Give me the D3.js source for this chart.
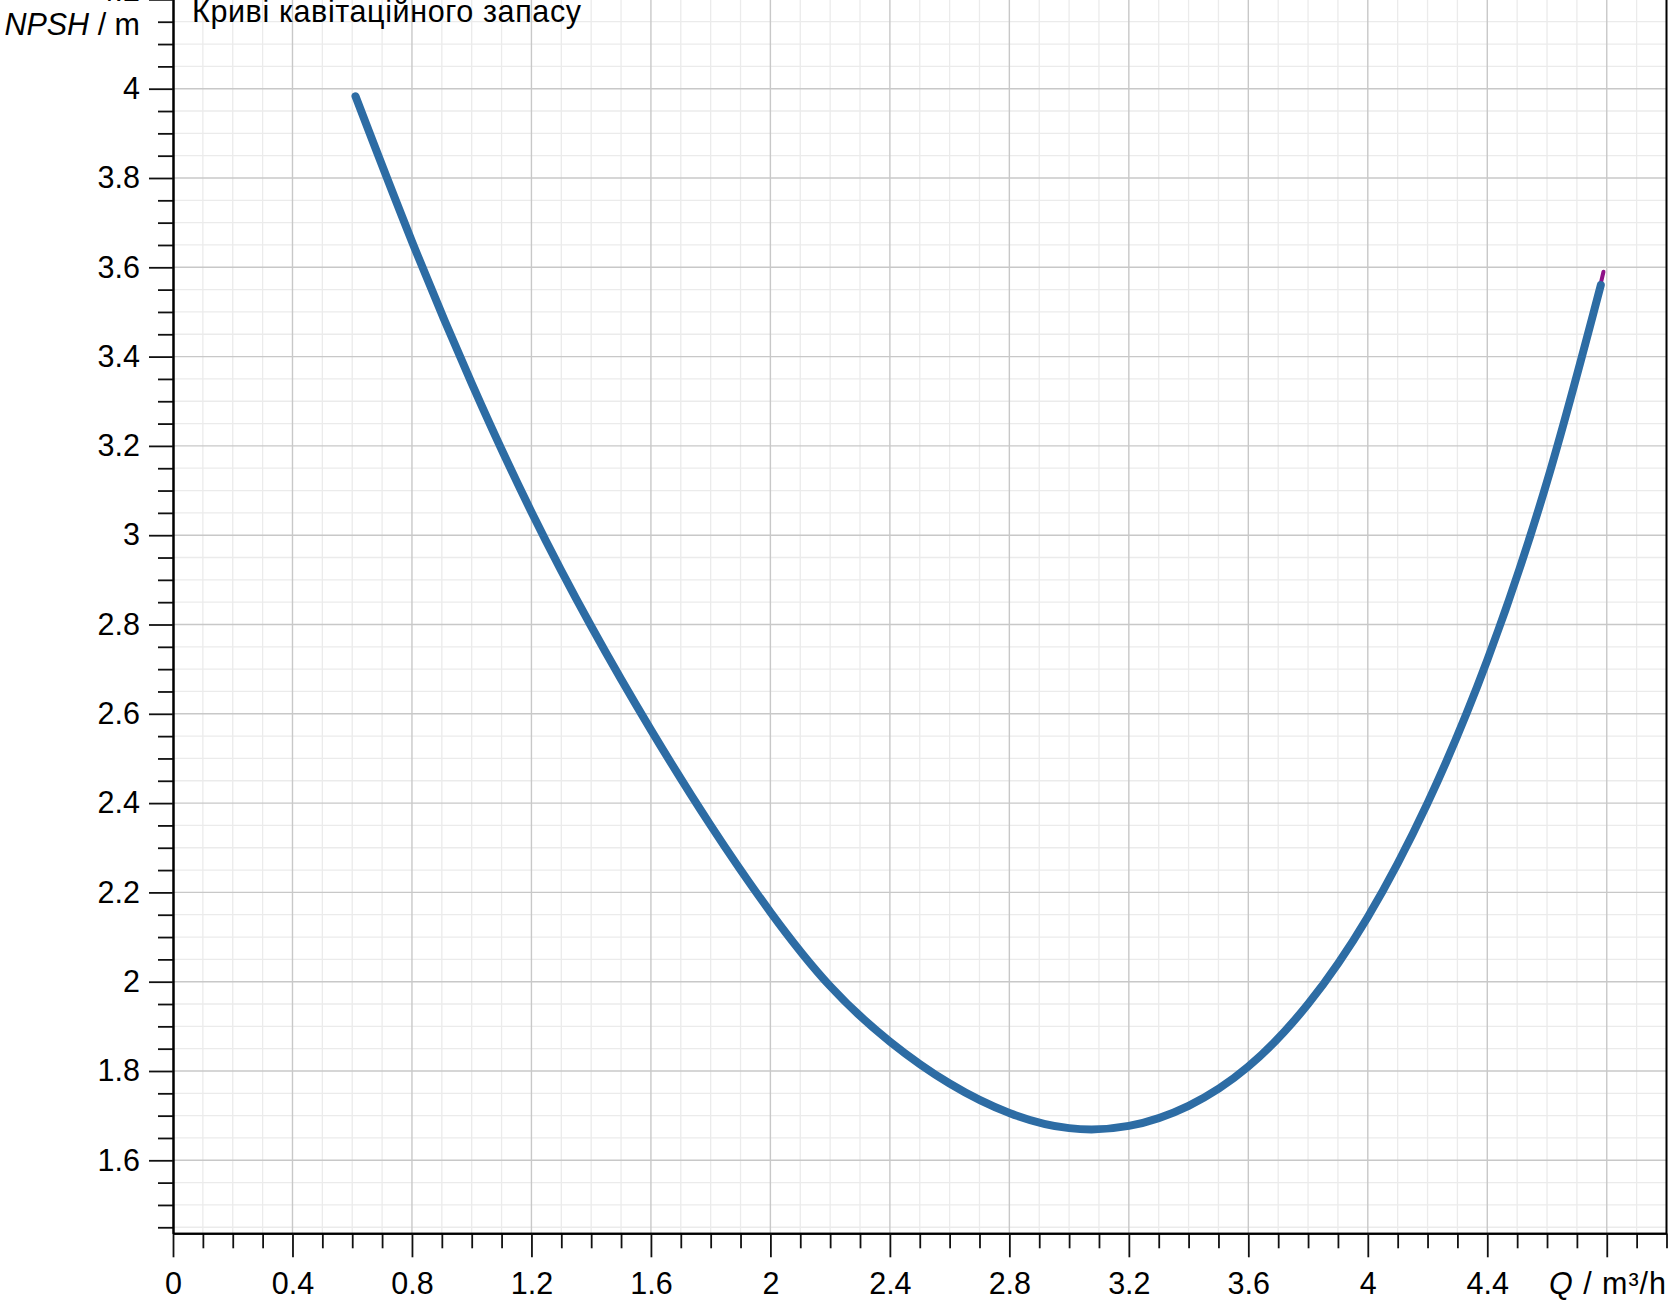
<!DOCTYPE html>
<html>
<head>
<meta charset="utf-8">
<script src="https://cdn.jsdelivr.net/npm/d3@7"></script>
<style>
  body { margin: 0; background: #fff; }
  text { font-family: 'Liberation Sans', Arial, sans-serif; }
</style>
</head>
<body>
<div id="npsh_chart"></div>
<script>

// NPSH curve (Q in m3/h, NPSH in m)
const q_values = [ 0.611, 0.8, 1.0, 1.2, 1.4, 1.6, 1.8, 2.0, 2.2, 2.4, 2.6, 2.8, 3.0, 3.2, 3.4, 3.6, 3.8, 4.0, 4.2, 4.4, 4.6, 4.78 ];
const npsh_values = [ 3.983, 3.658, 3.340, 3.052, 2.796, 2.564, 2.350, 2.156, 1.990, 1.866, 1.772, 1.706, 1.672, 1.677, 1.722, 1.81, 1.95, 2.145, 2.4, 2.72, 3.12, 3.56 ];

// second (purple) curve, only its tip shows past the blue one
const q_values_2 = [ 4.73, 4.789 ];
const npsh_values_2 = [ 3.42, 3.59 ];

// tick labels
const x_ticks = [ 0, 0.4, 0.8, 1.2, 1.6, 2, 2.4, 2.8, 3.2, 3.6, 4, 4.4, 4.8 ];
const x_tick_labels = [ '0', '0.4', '0.8', '1.2', '1.6', '2', '2.4', '2.8', '3.2', '3.6', '4', '4.4', '' ];
const y_ticks = [ 1.6, 1.8, 2, 2.2, 2.4, 2.6, 2.8, 3, 3.2, 3.4, 3.6, 3.8, 4, 4.2 ];
const y_tick_labels = [ '1.6', '1.8', '2', '2.2', '2.4', '2.6', '2.8', '3', '3.2', '3.4', '3.6', '3.8', '4', '4.2' ];

const title_text = 'Криві кавітаційного запасу';

const figure_width = 1673;
const figure_height = 1302;
const font_size = '30.5px';

const plot_left = 173, plot_right = 1666.5, plot_bottom = 1233.3, plot_top = -0.6;

const svg = d3.select( 'div#npsh_chart' )
  .append( 'svg' )
    .attr( 'width', figure_width )
    .attr( 'height', figure_height );

svg.append( 'rect' )
  .attr( 'width', figure_width )
  .attr( 'height', figure_height )
  .attr( 'fill', '#fff' );

const x = d3.scaleLinear()
  .domain( [ 0, 5 ] )
  .range( [ plot_left, plot_right ] );

const y = d3.scaleLinear()
  .domain( [ 1.4365, 4.2 ] )
  .range( [ plot_bottom, plot_top ] );

// minor steps: 0.1 on Q, 0.05 on NPSH
const x_minor = d3.range( 1, 51 ).map( i => i / 10 ).filter( v => Math.round( v * 10 ) % 4 !== 0 );
const y_minor = d3.range( 29, 85 ).map( i => i / 20 ).filter( v => Math.round( v * 20 ) % 4 !== 0 );

// Grid, light lines first then the stronger ones
const grid = svg.append( 'g' );
grid.selectAll( 'line.xminor' )
  .data( x_minor )
  .enter().append( 'line' )
    .attr( 'x1', d => x( d ) ).attr( 'x2', d => x( d ) )
    .attr( 'y1', plot_bottom ).attr( 'y2', 0 )
    .attr( 'stroke', '#ebebeb' ).attr( 'stroke-width', 1.3 );
grid.selectAll( 'line.yminor' )
  .data( y_minor )
  .enter().append( 'line' )
    .attr( 'x1', plot_left ).attr( 'x2', plot_right )
    .attr( 'y1', d => y( d ) ).attr( 'y2', d => y( d ) )
    .attr( 'stroke', '#ebebeb' ).attr( 'stroke-width', 1.3 );
grid.selectAll( 'line.xmajor' )
  .data( x_ticks.filter( d => d > 0 ) )
  .enter().append( 'line' )
    .attr( 'x1', d => x( d ) ).attr( 'x2', d => x( d ) )
    .attr( 'y1', plot_bottom ).attr( 'y2', 0 )
    .attr( 'stroke', '#c8c8c8' ).attr( 'stroke-width', 1.4 );
grid.selectAll( 'line.ymajor' )
  .data( y_ticks )
  .enter().append( 'line' )
    .attr( 'x1', plot_left ).attr( 'x2', plot_right )
    .attr( 'y1', d => y( d ) ).attr( 'y2', d => y( d ) )
    .attr( 'stroke', '#c8c8c8' ).attr( 'stroke-width', 1.4 );

// X axis: minor ticks, then major ticks with labels
svg.append( 'g' )
  .attr( 'transform', 'translate(0,' + plot_bottom + ')' )
  .call( d3.axisBottom( x ).tickValues( x_minor ).tickSize( 15 ).tickSizeOuter( 0 ).tickFormat( '' ) );
svg.append( 'g' )
  .attr( 'class', 'xaxis' )
  .attr( 'transform', 'translate(0,' + plot_bottom + ')' )
  .call( d3.axisBottom( x ).tickValues( x_ticks ).tickSize( 24 ).tickSizeOuter( 0 ).tickPadding( 15 )
    .tickFormat( ( d, i ) => x_tick_labels[ i ] ) );

// Y axis
svg.append( 'g' )
  .attr( 'transform', 'translate(' + plot_left + ',0)' )
  .call( d3.axisLeft( y ).tickValues( y_minor ).tickSize( 15 ).tickSizeOuter( 0 ).tickFormat( '' ) );
const y_axis = svg.append( 'g' )
  .attr( 'class', 'yaxis' )
  .attr( 'transform', 'translate(' + plot_left + ',0)' )
  .call( d3.axisLeft( y ).tickValues( y_ticks ).tickSize( 24 ).tickSizeOuter( 0 ).tickPadding( 9 )
    .tickFormat( ( d, i ) => y_tick_labels[ i ] ) );

// the top label sits mostly above the page edge
y_axis.selectAll( '.tick' ).filter( d => d === 4.2 ).select( 'text' )
  .attr( 'transform', 'translate(0,-9)' );

svg.selectAll( '.domain' ).attr( 'stroke', '#000' ).attr( 'stroke-width', 2 );
svg.selectAll( '.tick line' ).attr( 'stroke', '#111' ).attr( 'stroke-width', 1.8 );
svg.selectAll( '.tick text' )
  .attr( 'fill', '#000' )
  .style( 'font-size', font_size )
  .style( 'font-family', "'Liberation Sans', Arial, sans-serif" );

// right frame line
svg.append( 'line' )
  .attr( 'x1', plot_right ).attr( 'x2', plot_right )
  .attr( 'y1', 0 ).attr( 'y2', plot_bottom )
  .attr( 'stroke', '#000' ).attr( 'stroke-width', 2 );

// Curves
const line = d3.line()
  .x( d => x( d[ 0 ] ) )
  .y( d => y( d[ 1 ] ) )
  .curve( d3.curveNatural );

svg.append( 'path' )
  .datum( d3.zip( q_values_2, npsh_values_2 ) )
  .attr( 'd', line )
  .attr( 'fill', 'none' )
  .attr( 'stroke', '#8e1287' )
  .attr( 'stroke-width', 4 )
  .attr( 'stroke-linecap', 'round' );

svg.append( 'path' )
  .datum( d3.zip( q_values, npsh_values ) )
  .attr( 'd', line )
  .attr( 'fill', 'none' )
  .attr( 'stroke', '#2d6ca4' )
  .attr( 'stroke-width', 8 )
  .attr( 'stroke-linecap', 'round' )
  .attr( 'stroke-linejoin', 'round' );

// Axis titles and chart title
const y_title = svg.append( 'text' )
  .attr( 'x', 140 ).attr( 'y', 35 )
  .attr( 'text-anchor', 'end' )
  .style( 'font-size', font_size );
y_title.append( 'tspan' ).style( 'font-style', 'italic' ).text( 'NPSH' );
y_title.append( 'tspan' ).text( ' / m' );

const x_title = svg.append( 'text' )
  .attr( 'x', 1549 ).attr( 'y', 1294 )
  .attr( 'textLength', 117 )
  .attr( 'lengthAdjust', 'spacing' )
  .style( 'font-size', font_size );
x_title.append( 'tspan' ).style( 'font-style', 'italic' ).text( 'Q' );
x_title.append( 'tspan' ).text( ' / m³/h' );

svg.append( 'text' )
  .attr( 'x', 192 ).attr( 'y', 22 )
  .attr( 'textLength', 389 )
  .attr( 'lengthAdjust', 'spacing' )
  .style( 'font-size', font_size )
  .text( title_text );

</script>
</body>
</html>
